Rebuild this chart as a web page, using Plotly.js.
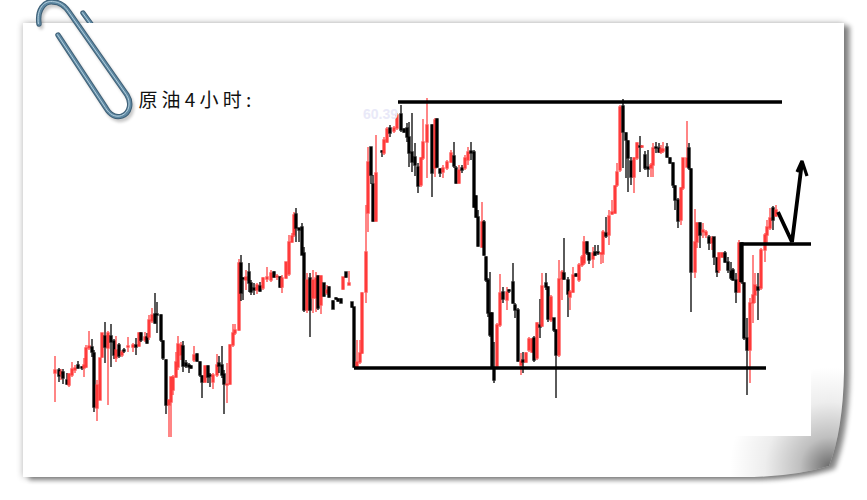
<!DOCTYPE html>
<html><head><meta charset="utf-8">
<script src="https://cdn.plot.ly/plotly-3.0.1.min.js"></script>
<style>html,body{margin:0;padding:0;background:#fff}#c{width:867px;height:500px}</style>
</head><body><div id="c"></div>
<script>
const barX=[55,59,61,63,67,69,72,75,78,82,84,86,89,92,94,97,100,102,105,108,111,114,116,119,122,124,128,133,136,139,141,145,147,149,152,155,157,161,163,166,169,171,173,176,178,181,183,186,189,191,194,197,200,202,205,208,210,213,217,219,222,224,227,230,233,235,239,241,243,246,249,251,254,257,260,263,267,271,274,277,280,282,286,289,292,294,296,299,302,304,307,310,313,316,318,321,324,327,329,333,336,338,341,343,346,349,352,354,357,360,362,366,368,371,373,376,382,384,387,390,394,397,401,404,407,409,412,415,418,421,423,427,432,435,437,440,443,447,451,454,456,459,462,465,468,471,474,476,478,482,484,486,488,490,492,494,497,500,503,507,509,513,515,518,521,523,526,529,532,534,537,540,542,546,548,551,554,556,559,562,564,568,570,573,576,579,582,584,587,589,593,595,598,601,603,606,609,612,615,617,620,623,626,628,631,634,637,640,642,645,648,651,653,656,659,661,663,667,670,673,675,678,681,683,687,689,691,695,697,700,703,706,709,712,714,717,719,722,725,728,731,733,736,739,742,744,747,750,753,755,758,761,765,767,770,773,776];
const opens=[127,130,126,128,120,115,125,130,135,133,132,133,152,153,147,92,100,143,164,152,164,159,142,155,145,150,153,153,155,154,167,160,163,163,179,186,186,185,159,140,95,98,110,123,133,145,154,137,135,134,140,146,138,124,118,134,125,118,125,137,135,126,115,116,155,167,170,237,222,220,228,217,212,210,214,212,221,220,228,223,223,213,222,226,258,265,286,272,273,247,190,222,202,202,224,195,217,207,213,199,202,201,201,211,228,215,198,193,133,138,147,208,287,353,316,279,349,347,358,372,369,372,386,371,372,363,348,343,333,315,342,358,375,332,381,331,328,332,338,344,332,317,332,332,340,349,348,304,283,253,278,243,220,187,187,132,134,175,208,200,210,218,195,190,135,140,138,150,148,162,142,175,174,217,213,180,182,170,145,221,227,220,203,208,226,220,235,237,258,247,241,248,248,246,246,267,265,286,287,315,330,394,367,359,339,323,342,354,353,345,333,332,335,353,352,348,349,353,342,337,314,300,280,312,333,352,331,228,258,277,268,265,263,257,263,242,230,243,247,238,229,230,220,208,257,217,162,150,197,205,213,212,250,265,272,292,284];
const highs=[144,132,131,131,127,127,138,135,139,134,142,155,169,161,150,120,142,167,178,169,176,161,164,157,150,152,163,157,162,168,168,168,167,185,192,207,198,186,160,141,100,123,125,148,164,158,159,140,137,135,154,147,139,125,135,135,127,127,146,144,154,130,137,156,176,176,241,245,223,230,237,220,217,217,218,223,233,230,229,226,224,225,238,265,267,288,292,272,277,253,227,227,230,228,225,225,217,215,214,200,203,202,202,223,228,229,198,193,160,160,208,295,353,353,325,365,350,363,373,375,374,387,395,372,377,378,387,357,337,343,381,402,376,382,382,332,335,340,350,358,334,335,335,345,353,358,350,305,290,298,280,244,222,228,188,158,177,226,213,213,211,237,197,192,147,148,148,163,162,164,178,201,227,227,214,205,182,171,240,230,262,223,210,233,227,237,245,264,259,248,253,255,255,248,270,283,290,300,315,337,395,401,368,360,343,343,358,364,355,349,350,337,357,358,357,355,358,357,343,338,315,302,313,342,379,357,332,291,278,278,277,270,265,264,263,243,248,248,249,243,238,232,227,260,258,218,182,202,245,227,227,252,267,280,292,294,295];
const lows=[98,118,120,116,115,113,123,127,131,130,123,132,150,143,88,79,100,142,137,95,133,141,138,142,143,147,148,148,145,153,158,158,156,160,177,176,167,158,140,86,63,63,105,122,130,140,128,132,127,131,138,138,123,102,117,117,113,111,123,127,122,86,97,115,153,165,169,199,200,210,208,205,205,206,208,210,218,218,222,220,212,207,221,224,257,263,258,258,245,188,187,163,187,188,190,186,203,205,202,191,200,198,197,210,222,215,192,132,132,136,146,197,268,316,278,278,343,345,357,363,367,370,368,367,358,333,328,324,307,313,340,322,303,323,332,323,322,330,337,332,316,316,327,330,335,340,292,282,253,252,244,218,183,163,131,117,133,173,197,190,207,196,182,138,125,127,137,148,147,138,140,162,173,210,178,178,168,102,143,200,220,183,190,207,223,218,233,235,245,236,232,244,245,236,237,262,255,285,286,313,328,332,322,308,315,307,340,328,352,330,323,323,323,347,347,346,347,342,336,312,290,272,275,310,333,330,188,222,252,252,262,262,250,250,235,223,227,242,237,227,220,219,197,207,216,160,105,117,177,197,180,210,238,257,270,270,283];
const closes=[130,124,128,122,116,126,131,132,132,132,135,152,154,148,93,115,142,167,153,167,158,145,150,144,148,149,154,155,153,167,160,163,157,180,185,177,185,160,142,95,100,123,123,138,156,155,134,134,133,132,145,139,125,118,134,123,124,125,135,134,125,116,116,155,167,170,237,207,221,223,217,208,210,215,209,222,223,227,223,224,213,222,238,258,264,285,272,270,245,190,220,190,220,222,192,224,204,210,203,191,201,199,197,223,223,217,193,133,138,147,207,248,338,325,279,327,348,360,371,367,372,385,370,368,363,347,338,335,314,342,358,375,327,380,333,327,332,338,347,334,317,330,330,342,348,347,293,283,254,278,245,220,187,165,133,120,175,207,201,208,209,197,190,139,139,138,147,161,161,140,177,173,214,213,181,203,170,145,221,228,221,206,208,225,224,235,243,258,247,240,247,245,247,247,268,264,284,288,314,328,393,368,360,342,323,342,357,353,354,332,331,335,352,352,348,351,351,343,337,315,300,279,312,342,342,332,228,258,277,265,270,268,257,262,243,228,247,247,238,230,222,220,208,257,218,162,150,197,205,215,210,250,265,273,282,280,290];

const topLineX=[398,782], topLineY=[398,398];
const bottomLineX=[354,766], bottomLineY=[132,132];
const breakLineX=[741,741,811], breakLineY=[218,256,256];
const forecastX=[778,792,802], forecastY=[288,258,338];
const arrowHeadX=[797,802,807], arrowHeadY=[328,339,324];

const titleText='原油4小时:';
const watermark='60.39';

const lv=y=>500-y;

// paper sheet, its shadow, curled corner and paper clip, as one backdrop picture
const paperOutline='M23,23 L844,23 L844,372 Q843,430 829,466 Q790,478 735,477 L23,477 Z';
const clipLoop='M39,24 C37,10 44,1 53,2 C60,2 65,6 69,12 L127,95 C132,103 130,113 122,116 C116,118 110,115 106,108 L58,35';
const clipTail='M83,13 L91,24';
const tube=d=>`<path d="${d}" stroke="#3e5f76" stroke-width="5.4"/><path d="${d}" stroke="#5e88a2" stroke-width="3.4"/><path d="${d}" stroke="#b4cfdd" stroke-width="1" transform="translate(-.6,-.4)"/>`;
const backdrop=`<svg xmlns="http://www.w3.org/2000/svg" width="867" height="500" viewBox="0 0 867 500">
<defs>
<filter id="b4" x="-10%" y="-10%" width="120%" height="120%"><feGaussianBlur stdDeviation="3.6"/></filter>
<filter id="b3" x="-10%" y="-10%" width="120%" height="120%"><feGaussianBlur stdDeviation="2.6"/></filter>
<filter id="b1" x="-30%" y="-30%" width="160%" height="160%"><feGaussianBlur stdDeviation="1.4"/></filter>
<radialGradient id="curl" gradientUnits="userSpaceOnUse" cx="830" cy="467" r="100">
<stop offset="0" stop-color="#000" stop-opacity=".58"/><stop offset=".3" stop-color="#000" stop-opacity=".25"/>
<stop offset=".65" stop-color="#000" stop-opacity=".07"/><stop offset="1" stop-color="#000" stop-opacity="0"/></radialGradient>
<clipPath id="pc"><path d="${paperOutline}"/></clipPath>
</defs>
<path d="${paperOutline}" fill="#000" opacity=".3" filter="url(#b4)"/>
<path d="${paperOutline}" fill="#000" opacity=".42" filter="url(#b3)" transform="translate(6,3)"/>
<g fill="none" stroke-linecap="round">${tube(clipTail)}</g>
<path d="${paperOutline}" fill="#fff"/>
<rect x="730" y="360" width="120" height="125" fill="url(#curl)" clip-path="url(#pc)"/>
<rect x="23" y="23" width="788" height="413" fill="#fff"/>
<g fill="none" stroke-linecap="round">
<path d="${clipLoop}" stroke="#000" stroke-width="5" opacity=".22" filter="url(#b1)" transform="translate(2,3)"/>
${tube(clipLoop)}</g>
</svg>`;

const candle={type:'candlestick',x:barX,open:opens,high:highs,low:lows,close:closes,whiskerwidth:0,
  increasing:{line:{color:'rgba(255,60,60,0.82)',width:1.5},fillcolor:'#ff3b3b'},
  decreasing:{line:{color:'rgba(0,0,0,0.86)',width:1.5},fillcolor:'#000'},hoverinfo:'skip'};
const ln=(x,y,w)=>({type:'scatter',mode:'lines',x,y,line:{color:'#000',width:w},hoverinfo:'skip'});
const data=[candle,ln(topLineX,topLineY,3.4),ln(bottomLineX,bottomLineY,3.4),ln(breakLineX,breakLineY,3.4),ln(forecastX,forecastY,3.8),ln(arrowHeadX,arrowHeadY,3.2)];

Plotly.newPlot('c',data,{
  width:867,height:500,margin:{l:0,r:0,t:0,b:0},paper_bgcolor:'#fff',plot_bgcolor:'rgba(0,0,0,0)',
  showlegend:false,boxgap:0,boxgroupgap:0,
  xaxis:{range:[0,867],visible:false,fixedrange:true,rangeslider:{visible:false}},
  yaxis:{range:[0,500],visible:false,fixedrange:true},
  images:[{source:'data:image/svg+xml;charset=utf-8,'+encodeURIComponent(backdrop),xref:'paper',yref:'paper',x:0,y:1,sizex:1,sizey:1,xanchor:'left',yanchor:'top',sizing:'stretch',layer:'below'}],
  annotations:[
    {xref:'x',yref:'y',x:138,y:lv(98),xanchor:'left',yanchor:'middle',showarrow:false,text:titleText,font:{family:'"Noto Sans CJK SC"',size:19,color:'#111'}},
    {xref:'x',yref:'y',x:361,y:lv(114),xanchor:'left',yanchor:'middle',showarrow:false,text:watermark,font:{family:'Liberation Sans',size:14,color:'#e9e9f8',weight:700}}
  ]
},{displayModeBar:false,staticPlot:true}).then(()=>{
  const t=document.querySelector('.annotation-text');
  if(t){t.style.letterSpacing='4.2px';t.setAttribute('transform','translate(11,0)');}
});
</script></body></html>
